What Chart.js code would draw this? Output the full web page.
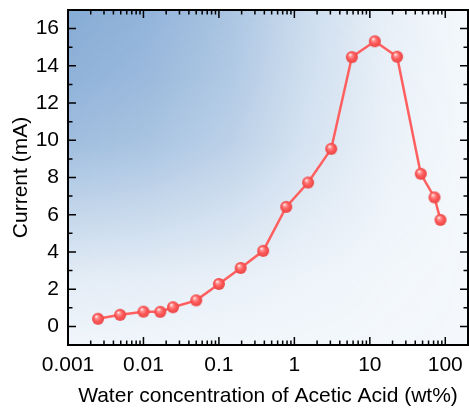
<!DOCTYPE html>
<html><head><meta charset="utf-8">
<script src="https://cdn.jsdelivr.net/npm/chart.js@4.4.1/dist/chart.umd.min.js"></script>
<style>html,body{margin:0;padding:0;background:#fff;overflow:hidden}</style>
</head><body>
<canvas id="c" width="469" height="409" style="display:block;width:469px;height:409px"></canvas>
<script>
// ---- data ----
const waterConc = [0.0025, 0.0049, 0.01, 0.0167, 0.0246, 0.05, 0.1, 0.194, 0.386, 0.78, 1.52, 3.08, 5.78, 11.65, 23.0, 47.3, 71.9, 86.3];
const currentMA = [0.41, 0.62, 0.79, 0.78, 1.03, 1.40, 2.28, 3.14, 4.06, 6.42, 7.73, 9.54, 14.47, 15.32, 14.49, 8.20, 6.93, 5.72];
const xTickLabels = ['0.001', '0.01', '0.1', '1', '10', '100'];
const yTickLabels = ['0', '2', '4', '6', '8', '10', '12', '14', '16'];
const xTitle = 'Water concentration of Acetic Acid (wt%)';
const yTitle = 'Current (mA)';

const FONT = "'Liberation Sans', Arial, sans-serif";
const FS = 21;

// sphere marker
function makeSphere(r) {
  const s = Math.ceil(r * 2 + 2);
  const cv = document.createElement('canvas');
  cv.width = s; cv.height = s;
  const g = cv.getContext('2d');
  const c = s / 2;
  const grd = g.createRadialGradient(c - r * 0.3, c - r * 0.42, r * 0.05, c, c, r);
  grd.addColorStop(0, '#fff4f4');
  grd.addColorStop(0.22, '#ff9a9a');
  grd.addColorStop(0.55, '#ff5c5c');
  grd.addColorStop(1, '#e94444');
  g.fillStyle = grd;
  g.beginPath(); g.arc(c, c, r, 0, Math.PI * 2); g.fill();
  return cv;
}
const sphere = makeSphere(6);

const bgPlugin = {
  id: 'bg',
  beforeDraw(chart) {
    const a = chart.chartArea, ctx = chart.ctx;
    const w = Math.round(a.right - a.left), h = Math.round(a.bottom - a.top);
    ctx.save();
    ctx.fillStyle = 'rgb(244,248,252)';
    ctx.fillRect(a.left, a.top, w, h);
    const off = document.createElement('canvas');
    off.width = w; off.height = h;
    const o = off.getContext('2d');
    const hg = o.createLinearGradient(0, 0, w, 0);
    hg.addColorStop(0, 'rgba(125,165,210,0.96)');
    hg.addColorStop(0.2, 'rgba(125,165,210,0.86)');
    hg.addColorStop(0.4, 'rgba(125,165,210,0.65)');
    hg.addColorStop(0.6, 'rgba(125,165,210,0.34)');
    hg.addColorStop(0.8, 'rgba(125,165,210,0.10)');
    hg.addColorStop(1, 'rgba(125,165,210,0)');
    o.fillStyle = hg; o.fillRect(0, 0, w, h);
    o.globalCompositeOperation = 'destination-in';
    const vg = o.createLinearGradient(0, 0, 0, h);
    vg.addColorStop(0, 'rgba(0,0,0,0.96)');
    vg.addColorStop(0.2, 'rgba(0,0,0,0.88)');
    vg.addColorStop(0.4, 'rgba(0,0,0,0.73)');
    vg.addColorStop(0.6, 'rgba(0,0,0,0.43)');
    vg.addColorStop(0.8, 'rgba(0,0,0,0.14)');
    vg.addColorStop(1, 'rgba(0,0,0,0.03)');
    o.fillStyle = vg; o.fillRect(0, 0, w, h);
    ctx.drawImage(off, a.left, a.top);
    ctx.restore();
  }
};

const framePlugin = {
  id: 'frame',
  afterDraw(chart) {
    const a = chart.chartArea, ctx = chart.ctx;
    const xs = chart.scales.x, ys = chart.scales.y;
    ctx.save();
    ctx.strokeStyle = '#000';
    ctx.lineWidth = 1.5;
    ctx.beginPath();
    xs.ticks.forEach(t => {
      const v = t.value;
      const e = Math.floor(Math.log10(v) + 1e-9);
      const m = v / Math.pow(10, e);
      const mr = Math.round(m);
      if (Math.abs(m - mr) > 1e-6 || mr < 1 || mr > 9) return;
      const px = xs.getPixelForValue(v);
      if (px < a.left + 1 || px > a.right - 1) return;
      const len = mr === 1 ? 8 : 4.5;
      ctx.moveTo(px, a.bottom); ctx.lineTo(px, a.bottom - len);
      ctx.moveTo(px, a.top); ctx.lineTo(px, a.top + len);
    });
    ys.ticks.forEach(t => {
      const v = t.value;
      if (Math.abs(v - Math.round(v)) > 1e-6) return;
      const py = ys.getPixelForValue(v);
      if (py < a.top + 1 || py > a.bottom - 1) return;
      const len = (Math.round(v) % 2 === 0) ? 8 : 4.5;
      ctx.moveTo(a.left, py); ctx.lineTo(a.left + len, py);
      ctx.moveTo(a.right, py); ctx.lineTo(a.right - len, py);
    });
    ctx.stroke();
    ctx.lineWidth = 2;
    ctx.strokeRect(a.left, a.top, a.right - a.left, a.bottom - a.top);
    ctx.restore();
  }
};

new Chart(document.getElementById('c'), {
  type: 'line',
  data: {
    datasets: [{
      data: waterConc.map((x, i) => ({ x: x, y: currentMA[i] })),
      borderColor: '#ff5f5f',
      borderWidth: 2.5,
      pointStyle: sphere,
      pointRadius: 6,
      pointHoverRadius: 6,
      tension: 0,
      fill: false
    }]
  },
  options: {
    responsive: false,
    animation: false,
    devicePixelRatio: 1,
    layout: { autoPadding: false, padding: { top: 10, right: 1, left: 0, bottom: 0 } },
    plugins: { legend: { display: false }, tooltip: { enabled: false } },
    scales: {
      x: {
        type: 'logarithmic',
        min: 0.001, max: 200,
        afterFit: s => { s.height = 64; s.paddingLeft = 0; s.paddingRight = 0; },
        grid: { display: false, drawTicks: false },
        border: { display: false },
        ticks: {
          autoSkip: false, maxRotation: 0, minRotation: 0, padding: 8,
          color: '#000', font: { family: FONT, size: FS },
          callback: (v) => {
            const l = Math.log10(v), r = Math.round(l);
            if (Math.abs(l - r) < 1e-6 && r >= -3 && r <= 2) return xTickLabels[r + 3];
            return '';
          }
        },
        title: { display: true, text: xTitle, color: '#000', font: { family: FONT, size: FS }, padding: { top: 0, bottom: 0 } }
      },
      y: {
        min: -1, max: 17,
        afterFit: s => { s.width = 68; s.paddingTop = 0; s.paddingBottom = 0; },
        grid: { display: false, drawTicks: false },
        border: { display: false },
        ticks: {
          stepSize: 1, autoSkip: false, padding: 9,
          color: '#000', font: { family: FONT, size: FS },
          callback: (v) => {
            const r = Math.round(v);
            if (Math.abs(v - r) < 1e-6 && r % 2 === 0 && r >= 0 && r <= 16) return yTickLabels[r / 2];
            return '';
          }
        },
        title: { display: true, text: yTitle, color: '#000', font: { family: FONT, size: FS }, padding: { top: 8.5, bottom: 0 } }
      }
    }
  },
  plugins: [bgPlugin, framePlugin]
});
</script>
</body></html>
